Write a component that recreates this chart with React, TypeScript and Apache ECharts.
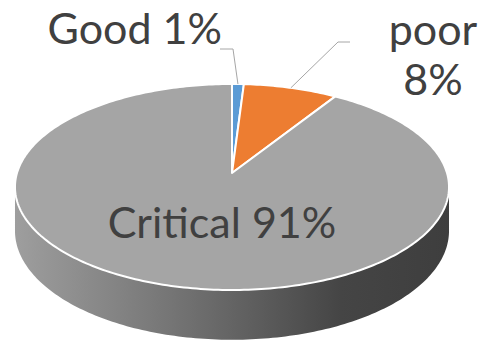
import React, { useEffect, useRef } from "react";
import * as echarts from "echarts";

// Condition shares (percent)
const categories = ["Good", "poor", "Critical"];
const values = [1, 8, 91];
const sliceColors = ["#5B9BD5", "#ED7D31", "#A5A5A5"];

// Tilted-disc geometry (perspective view of a flat cylinder)
const CX = 232;
const CY = 173;
const RX = 215;
const RY = 101.1;
const DEPTH = 7.357;
const THICK = 43;
const STEP = Math.PI / 180;

const TEXT_COLOR = "#404040";
const FONT = "Lato, 'Noto Sans', sans-serif";
const FONT_SIZE = 43;

// Label placement for each slice: leader elbow / end and text anchor
const labelLayout = [
  { elbow: [233, 49], end: [220, 49], at: [222, 27], align: "right", wrap: false },
  { elbow: [338, 42], end: [350, 42], at: [433, 53], align: "center", wrap: true },
  { elbow: null, end: null, at: [222, 221], align: "center", wrap: false },
];

function proj(theta: number, drop = 0): number[] {
  const u = Math.sin(theta);
  const v = -Math.cos(theta);
  const s = DEPTH / (DEPTH - v);
  return [CX + RX * u * s, CY + (RY * v + drop) * s];
}

function arc(a: number, b: number, drop = 0): number[][] {
  const n = Math.max(2, Math.ceil((b - a) / STEP) + 1);
  const pts: number[][] = [];
  for (let k = 0; k < n; k++) pts.push(proj(a + ((b - a) * k) / (n - 1), drop));
  return pts;
}

export default function App() {
  const ref = useRef<HTMLDivElement>(null);

  useEffect(() => {
    if (!ref.current) return;
    const chart = echarts.init(ref.current, null, { renderer: "svg" });

    const total = values.reduce((a, b) => a + b, 0);
    const starts: number[] = [];
    let acc = 0;
    values.forEach((v) => {
      starts.push(acc);
      acc += v;
    });

    const sideL = Math.acos(-1 / DEPTH);
    const sideR = 2 * Math.PI - sideL;

    const sideFill = new echarts.graphic.LinearGradient(
      CX - RX * 1.01, 0, CX + RX * 1.01, 0,
      [
        { offset: 0, color: "#9e9e9e" },
        { offset: 0.3, color: "#7c7c7c" },
        { offset: 0.55, color: "#5e5e5e" },
        { offset: 0.75, color: "#454545" },
        { offset: 1, color: "#3e3e3e" },
      ],
      true
    );

    const renderItem = (params: any, api: any) => {
      const i = params.dataIndex;
      const val = api.value(0) as number;
      const a0 = (starts[i] / total) * 2 * Math.PI;
      const a1 = ((starts[i] + val) / total) * 2 * Math.PI;
      const children: any[] = [];

      // front wall
      const sa = Math.max(a0, sideL);
      const sb = Math.min(a1, sideR);
      if (sa < sb) {
        const pts = arc(sa, sb).concat(arc(sa, sb, THICK).reverse());
        children.push({
          type: "polygon",
          shape: { points: pts },
          style: { fill: sideFill, stroke: null },
          z2: 1,
        });
      }

      // top face
      const top = [[CX, CY]].concat(arc(a0, a1));
      children.push({
        type: "polygon",
        shape: { points: top },
        style: { fill: sliceColors[i], stroke: "#ffffff", lineWidth: 2, lineJoin: "round" },
        z2: 2,
      });

      // label
      const lay = labelLayout[i];
      const pct = Math.round((val / total) * 100);
      const text = categories[i] + (lay.wrap ? "\n" : " ") + pct + "%";
      if (lay.elbow && lay.end) {
        const anchor = proj((a0 + a1) / 2);
        children.push({
          type: "polyline",
          shape: { points: [anchor, lay.elbow, lay.end] },
          style: { stroke: "#a6a6a6", lineWidth: 1, fill: null },
          z2: 3,
        });
      }
      children.push({
        type: "text",
        x: lay.at[0],
        y: lay.at[1],
        style: {
          text,
          fill: TEXT_COLOR,
          fontSize: FONT_SIZE,
          fontFamily: FONT,
          align: lay.align,
          verticalAlign: "middle",
          lineHeight: 50,
        },
        z2: 4,
      });

      return { type: "group", children };
    };

    chart.setOption({
      animation: false,
      backgroundColor: "#ffffff",
      series: [
        {
          type: "custom",
          coordinateSystem: "none",
          renderItem,
          clip: false,
          data: values.map((v, i) => ({ name: categories[i], value: [v] })),
        },
      ],
    });

    return () => chart.dispose();
  }, []);

  return (
    <div
      ref={ref}
      style={{ position: "fixed", left: 0, top: 0, width: 487, height: 342 }}
    />
  );
}
